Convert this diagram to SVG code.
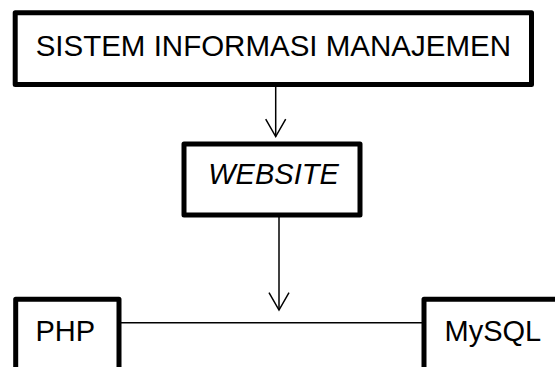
<svg xmlns="http://www.w3.org/2000/svg" width="555" height="367" viewBox="0 0 555 367">
<style>
.box{fill:#fff;stroke:#000;stroke-width:5;stroke-linejoin:round}
.lbl{font-family:"Liberation Sans",Arial,sans-serif;fill:#000}
.conn{stroke:#000;stroke-width:1.5;fill:none}
</style>
<defs>
<marker id="arr" markerUnits="userSpaceOnUse" markerWidth="20" markerHeight="24" viewBox="-19 -12 20 24" refX="0" refY="0" orient="auto" overflow="visible">
<path d="M-17.4,-10 L0,0 L-17.4,10" fill="none" stroke="#000" stroke-width="1.5"/>
</marker>
</defs>
<rect width="555" height="367" fill="#fff"/>
<g id="connectors">
<line class="conn" x1="275.7" y1="87" x2="275.7" y2="136.5" marker-end="url(#arr)"/>
<line class="conn" x1="279" y1="217" x2="279" y2="310" marker-end="url(#arr)"/>
<line class="conn" x1="111" y1="322.7" x2="422" y2="322.7"/>
</g>
<g id="sim">
<rect class="box" x="15.2" y="12.7" width="516.3" height="71.8"/>
<text class="lbl" x="273.3" y="55.5" font-size="29.5" text-anchor="middle">SISTEM INFORMASI MANAJEMEN</text>
</g>
<g id="website">
<rect class="box" x="184" y="144" width="176" height="71"/>
<text class="lbl" x="273.5" y="184" font-size="29" font-style="italic" text-anchor="middle">WEBSITE</text>
</g>
<g id="php">
<rect class="box" x="15.7" y="299.3" width="103.3" height="90"/>
<text class="lbl" x="35.5" y="340.7" font-size="29">PHP</text>
</g>
<g id="mysql">
<rect class="box" x="424" y="299.3" width="150" height="90"/>
<text class="lbl" x="444.5" y="340.7" font-size="29">MySQL</text>
</g>
</svg>
